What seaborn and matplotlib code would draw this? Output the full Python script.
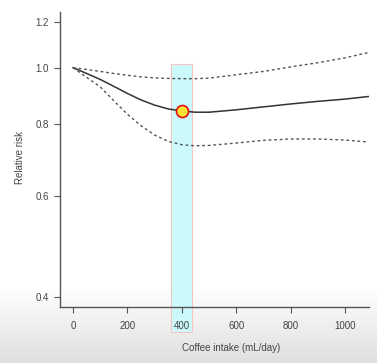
import numpy as np
import pandas as pd
import seaborn as sns
import matplotlib.pyplot as plt
from matplotlib.patches import Rectangle
from matplotlib.ticker import FixedLocator, FixedFormatter, NullLocator

# values
coffee = [0, 50, 100, 150, 200, 250, 300, 350, 400, 450, 500, 600, 700, 800, 900, 1000, 1085]
rr = [1.0, 0.977, 0.954, 0.928, 0.902, 0.879, 0.861, 0.848, 0.841, 0.837, 0.837,
      0.845, 0.855, 0.865, 0.874, 0.882, 0.891]
rr_upper = [1.0, 0.993, 0.985, 0.977, 0.97, 0.964, 0.96, 0.958, 0.957, 0.957, 0.959,
            0.972, 0.985, 1.003, 1.02, 1.04, 1.062]
rr_lower = [1.0, 0.962, 0.926, 0.876, 0.83, 0.793, 0.764, 0.745, 0.735, 0.732, 0.733,
            0.74, 0.748, 0.752, 0.752, 0.749, 0.743]
band_x = [360, 436]
band_top = 1.015
point_x = [400]
point_y = [0.841]
yticks = [0.4, 0.6, 0.8, 1.0, 1.2]
xticks = [0, 200, 400, 600, 800, 1000]

df = pd.DataFrame({"coffee": coffee, "rr": rr, "upper": rr_upper, "lower": rr_lower})

plt.rcParams["font.family"] = ["Liberation Sans", "DejaVu Sans"]
fig = plt.figure(figsize=(3.77, 3.63), dpi=100)

# greyish gradient at the bottom of the screenshot
bg = fig.add_axes([0, 0, 1, 1], zorder=-10)
grad = np.ones((363, 1))
ys = np.arange(363)
grad[ys > 285, 0] = 1 - (ys[ys > 285] - 285) / 78 * 0.13
bg.imshow(grad, cmap="gray", vmin=0, vmax=1, aspect="auto", extent=[0, 1, 0, 1])
bg.axis("off")

ax = fig.add_axes([60 / 377, 56 / 363, 309 / 377, 295 / 363])
ax.set_facecolor("none")
ax.set_yscale("log")
ax.set_xlim(-48, 1088)
ax.set_ylim(0.3844, 1.249)

ax.add_patch(Rectangle((band_x[0], 0.348), band_x[1] - band_x[0], band_top - 0.348,
                       facecolor="#cbf9fc", edgecolor="#f7c4c4", linewidth=0.8,
                       clip_on=False, zorder=0))

sns.lineplot(data=df, x="coffee", y="rr", ax=ax, color="#333333", linewidth=1.1, zorder=3)
sns.lineplot(data=df, x="coffee", y="upper", ax=ax, color="#555555", linewidth=1.0,
             linestyle=(0, (2, 2)), zorder=3)
sns.lineplot(data=df, x="coffee", y="lower", ax=ax, color="#555555", linewidth=1.0,
             linestyle=(0, (2, 2)), zorder=3)
sns.scatterplot(x=point_x, y=point_y, ax=ax, s=75, color="#ffe033", edgecolor="#e01010",
                linewidth=1.2, zorder=5)

ax.yaxis.set_major_locator(FixedLocator(yticks))
ax.yaxis.set_major_formatter(FixedFormatter([f"{v:.1f}" for v in yticks]))
ax.yaxis.set_minor_locator(NullLocator())
ax.set_xticks(xticks)
ax.set_xlabel("")
ax.set_ylabel("")
for s in ["top", "right"]:
    ax.spines[s].set_visible(False)
for s in ["left", "bottom"]:
    ax.spines[s].set_color("#555555")
    ax.spines[s].set_linewidth(1.0)
ax.tick_params(axis="both", colors="#555555", labelcolor="#444444", labelsize=7,
               length=4, width=0.8)
ax.tick_params(axis="x", pad=6)
ax.tick_params(axis="y", pad=4)

fig.text(20 / 377, 1 - 158 / 363, "Relative risk", rotation=90, ha="center", va="center",
         fontsize=7, color="#444444")
fig.text(231 / 377, 1 - 348 / 363, "Coffee intake (mL/day)", ha="center", va="center",
         fontsize=7, color="#444444")

fig.savefig("out.png", dpi=100)
